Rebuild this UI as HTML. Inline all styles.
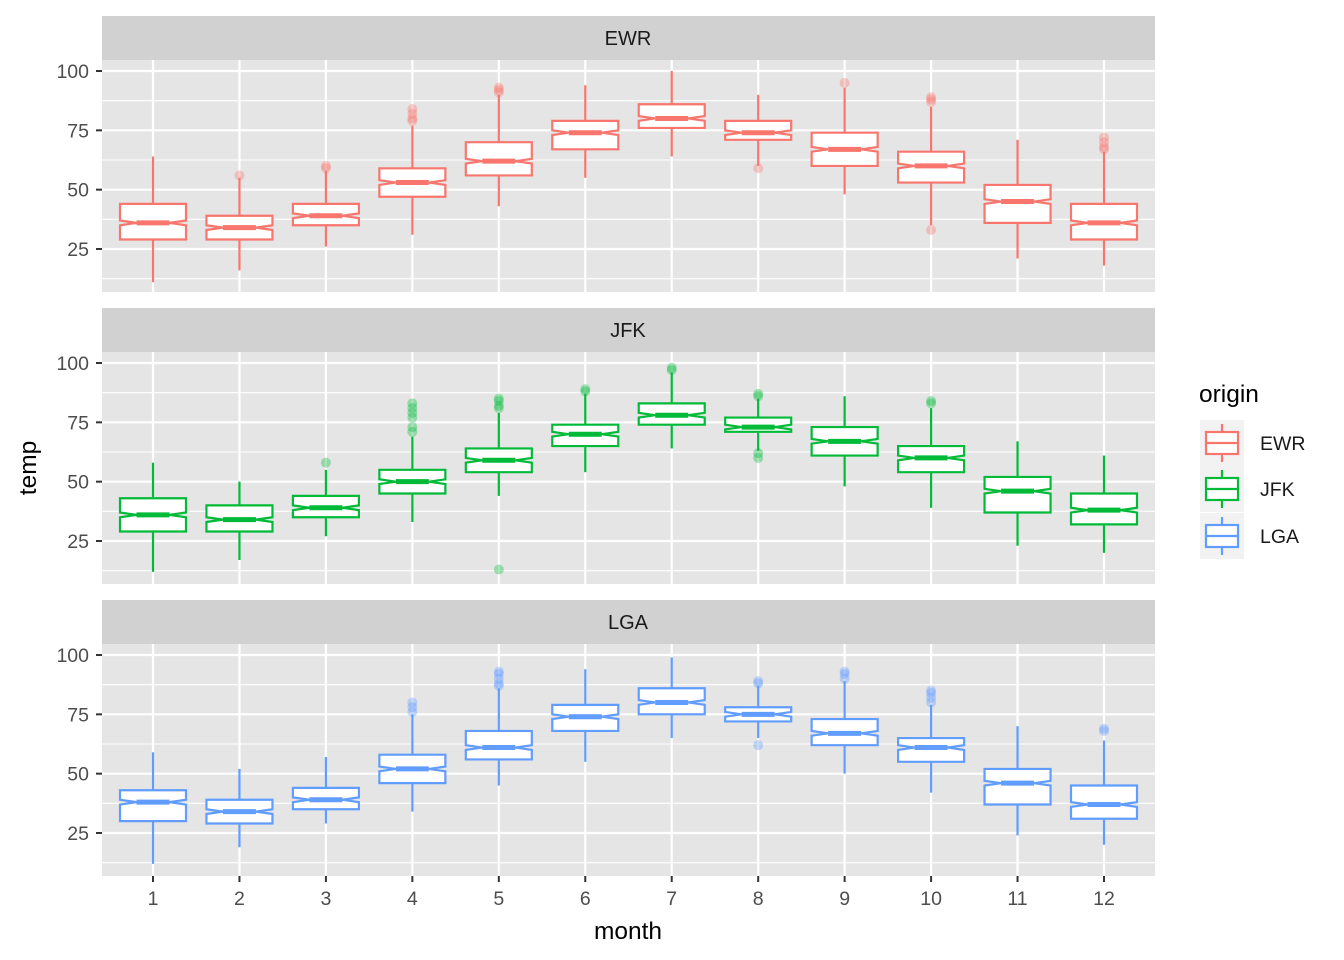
<!DOCTYPE html>
<html><head><meta charset="utf-8"><style>
html,body{margin:0;padding:0;background:#fff;}
svg{display:block;font-family:"Liberation Sans",Arial,sans-serif;}
</style></head><body>
<svg id="s" width="1344" height="960" xmlns="http://www.w3.org/2000/svg"></svg>
<script>
const S=document.getElementById('s');let h='';
const X0=102,X1=1155,k=178/75;
const cols=['#F8766D','#00BA38','#619CFF'],names=['EWR','JFK','LGA'];
const data=[
[[11,29,36,44,64,[]],[16,29,34,39,55,[56]],[26,35,39,44,58,[59,60]],[31,47,53,59,77,[79,80,82,84]],[43,56,62,70,90,[91,92,93]],[55,67,74,79,94,[]],[64,76,80,86,100,[]],[60,71,74,79,90,[59]],[48,60,67,74,93,[95]],[35,53,60,66,85,[33,87,88,89]],[21,36,45,52,71,[]],[18,29,36,44,66,[67,68,70,72]]],
[[12,29,36,43,58,[]],[17,29,34,40,50,[]],[27,35,39,44,55,[58]],[33,45,50,55,69,[71,73,77,79,81,83]],[44,54,59,64,79,[13,81,82,84,85]],[54,65,70,74,87,[88,89]],[64,74,78,83,96,[97,98]],[63,71,73,77,85,[60,62,86,87]],[48,61,67,73,86,[]],[39,54,60,65,81,[83,84]],[23,37,46,52,67,[]],[20,32,38,45,61,[]]],
[[12,30,38,43,59,[]],[19,29,34,39,52,[]],[29,35,39,44,57,[]],[34,46,52,58,75,[76,78,80]],[45,56,61,68,86,[87,88,90,92,93]],[55,68,74,79,94,[]],[65,75,80,86,99,[]],[65,72,75,78,87,[62,88,89]],[50,62,67,73,89,[90,92,93]],[42,55,61,65,79,[80,82,84,85]],[24,37,46,52,70,[]],[20,31,37,45,64,[68,69]]]];
for(let p=0;p<3;p++){
 const off=p*292,top=60+off,bot=292+off;
 const y=v=>71+off+(100-v)*k;
 h+=`<rect x="${X0}" y="${16+off}" width="${X1-X0}" height="44" fill="#D1D1D1"/>`;
 h+=`<text x="628" y="${45+off}" font-size="20" text-anchor="middle" fill="#1a1a1a">${names[p]}</text>`;
 h+=`<rect x="${X0}" y="${top}" width="${X1-X0}" height="232" fill="#E5E5E5"/>`;
 for(const v of [12.5,37.5,62.5,87.5]) h+=`<line x1="${X0}" x2="${X1}" y1="${y(v)}" y2="${y(v)}" stroke="#fff" stroke-width="1.1"/>`;
 for(const v of [25,50,75,100]){h+=`<line x1="${X0}" x2="${X1}" y1="${y(v)}" y2="${y(v)}" stroke="#fff" stroke-width="2.2"/>`;
  h+=`<line x1="96" x2="102" y1="${y(v)}" y2="${y(v)}" stroke="#333" stroke-width="2"/>`;
  h+=`<text x="89" y="${y(v)+7}" font-size="19.5" text-anchor="end" fill="#4d4d4d">${v}</text>`;}
 for(let m=1;m<=12;m++){const cx=153+(m-1)*(951/11);
  h+=`<line x1="${cx}" x2="${cx}" y1="${top}" y2="${bot}" stroke="#fff" stroke-width="2.2"/>`;}
 const c=cols[p];
 data[p].forEach((d,i)=>{const cx=153+i*(951/11);const[lo,q1,md,q3,hi,out]=d;
  h+=`<line x1="${cx}" x2="${cx}" y1="${y(hi)}" y2="${y(q3)}" stroke="${c}" stroke-width="2.2"/>`;
  h+=`<line x1="${cx}" x2="${cx}" y1="${y(q1)}" y2="${y(lo)}" stroke="${c}" stroke-width="2.2"/>`;
  const w=33,nw=16.5,n=1.0;
  const pts=[[cx-w,y(q3)],[cx-w,y(md+n)],[cx-nw,y(md)],[cx-w,y(md-n)],[cx-w,y(q1)],[cx+w,y(q1)],[cx+w,y(md-n)],[cx+nw,y(md)],[cx+w,y(md+n)],[cx+w,y(q3)]];
  h+=`<polygon points="${pts.map(a=>a.join(',')).join(' ')}" fill="#fff" stroke="${c}" stroke-width="2.2"/>`;
  h+=`<line x1="${cx-nw}" x2="${cx+nw}" y1="${y(md)}" y2="${y(md)}" stroke="${c}" stroke-width="5"/>`;
  for(const o of out) h+=`<circle cx="${cx}" cy="${y(o)}" r="5" fill="${c}" fill-opacity="0.35"/>`;
 });
}
for(let m=1;m<=12;m++){const cx=153+(m-1)*(951/11);
 h+=`<line x1="${cx}" x2="${cx}" y1="876" y2="882" stroke="#333" stroke-width="2"/>`;
 h+=`<text x="${cx}" y="905" font-size="19.5" text-anchor="middle" fill="#4d4d4d">${m}</text>`;}
h+=`<text x="628" y="939" font-size="24.5" text-anchor="middle" fill="#000">month</text>`;
h+=`<text transform="translate(36,468) rotate(-90)" font-size="24.5" text-anchor="middle" fill="#000">temp</text>`;
h+=`<text x="1199" y="402" font-size="24.5" fill="#000">origin</text>`;
[443,489,536].forEach((cy,i)=>{const c=cols[i];
 h+=`<rect x="1200" y="${cy-23}" width="44" height="46" fill="#F2F2F2"/>`;
 h+=`<line x1="1222" x2="1222" y1="${cy-19}" y2="${cy+19}" stroke="${c}" stroke-width="2.2"/>`;
 h+=`<rect x="1206" y="${cy-11}" width="32" height="22" fill="#fff" stroke="${c}" stroke-width="2.2"/>`;
 h+=`<line x1="1206" x2="1238" y1="${cy}" y2="${cy}" stroke="${c}" stroke-width="2.2"/>`;
 h+=`<text x="1260" y="${cy+7}" font-size="19.5" fill="#1a1a1a">${names[i]}</text>`;});
S.innerHTML=h;
</script>
</body></html>
